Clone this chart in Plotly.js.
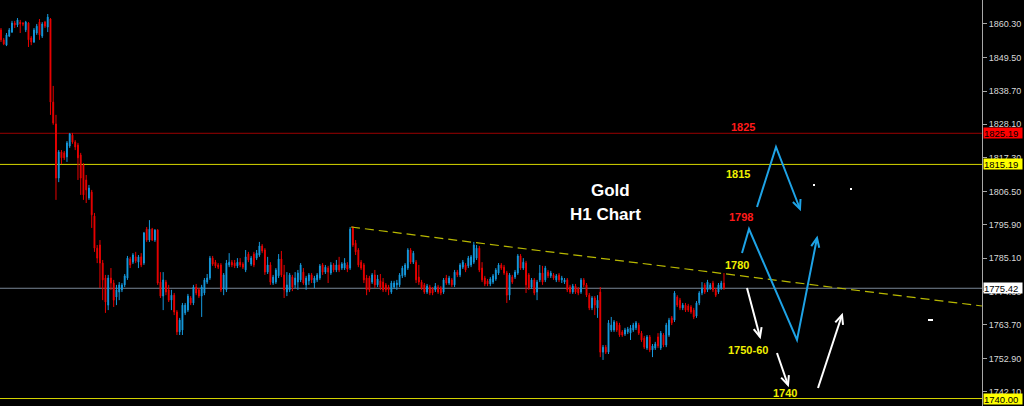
<!DOCTYPE html>
<html>
<head>
<meta charset="utf-8">
<script src="https://cdn.plot.ly/plotly-3.0.1.min.js"></script>
<style>
html,body{margin:0;padding:0;background:#000;}
#chart{width:1024px;height:406px;}
</style>
</head>
<body>
<div id="chart"></div>
<script>
// ---- Gold H1 OHLC ----
const open = [
1858.4,1855.2,1853.5,1856.4,1857.7,1860.6,1860.0,1860.9,1860.6,1858.4,
1860.6,1855.8,1854.5,1857.4,1860.9,1856.4,1860.9,1859.3,1861.9,1835.2,
1828.2,1810.8,1819.2,1818.9,1817.6,1821.1,1824.6,1822.4,1821.4,1818.2,
1815.0,1810.2,1804.4,1806.3,1798.6,1788.3,1789.3,1783.5,1778.7,1770.0,
1778.7,1777.1,1772.6,1774.2,1774.9,1776.5,1778.7,1784.8,1783.8,1785.5,
1783.8,1785.5,1783.5,1794.4,1790.9,1794.4,1790.9,1794.1,1777.4,1772.9,
1777.4,1774.9,1771.6,1773.2,1767.8,1761.4,1762.0,1767.5,1768.4,1772.3,
1770.7,1775.8,1774.9,1772.9,1773.9,1777.4,1778.7,1785.1,1783.8,1782.9,
1782.9,1775.2,1774.9,1782.9,1783.8,1783.5,1782.6,1783.8,1783.2,1781.3,
1786.4,1783.2,1786.4,1785.1,1786.1,1789.0,1787.7,1780.6,1782.9,1777.1,
1777.4,1779.4,1784.8,1779.7,1774.2,1774.9,1779.0,1776.5,1777.4,1778.1,
1780.6,1776.5,1777.8,1779.7,1777.1,1778.1,1778.7,1782.9,1780.6,1781.9,
1780.3,1782.9,1781.3,1782.9,1781.9,1781.9,1782.9,1781.9,1794.8,1789.9,
1787.7,1783.8,1782.9,1778.7,1778.7,1777.4,1779.7,1776.5,1777.8,1777.4,
1776.5,1775.8,1774.2,1775.8,1776.5,1776.5,1779.4,1779.7,1781.9,1787.7,
1783.8,1783.8,1779.0,1777.4,1776.5,1774.2,1775.8,1775.2,1774.9,1775.8,
1775.5,1774.2,1778.7,1777.1,1778.1,1776.5,1780.6,1779.7,1782.2,1782.9,
1782.6,1782.9,1783.8,1785.1,1788.3,1781.9,1778.7,1777.8,1776.8,1777.4,
1778.4,1780.3,1782.9,1782.2,1780.3,1773.2,1779.0,1779.0,1780.3,1785.8,
1781.9,1783.5,1779.7,1775.8,1778.1,1774.2,1778.1,1780.3,1778.1,1780.6,
1779.4,1779.7,1778.1,1779.7,1778.1,1777.4,1778.1,1775.8,1774.2,1776.1,
1775.2,1774.2,1778.1,1776.5,1773.2,1769.1,1772.3,1769.1,1774.2,1754.9,
1756.5,1754.9,1762.0,1762.0,1764.3,1763.6,1761.4,1760.7,1761.4,1761.0,
1762.0,1762.7,1763.6,1761.0,1759.4,1756.2,1759.8,1755.6,1756.2,1759.8,
1756.2,1760.4,1757.2,1760.4,1765.9,1765.2,1772.6,1771.6,1769.1,1770.0,
1769.7,1769.4,1768.4,1766.5,1770.7,1773.9,1776.5,1774.9,1775.5,1777.1,
1774.9,1774.2,1775.5,1777.1];
const high = [
1859.0,1855.8,1857.4,1859.0,1861.3,1861.3,1862.2,1861.6,1860.9,1861.3,
1860.9,1856.4,1859.0,1860.3,1861.9,1860.9,1861.3,1863.5,1862.2,1840.4,
1831.1,1819.8,1819.8,1819.5,1822.7,1825.3,1825.3,1823.0,1822.1,1818.9,
1815.6,1811.8,1808.6,1807.0,1799.6,1789.3,1790.9,1784.5,1779.7,1779.7,
1781.9,1778.1,1776.5,1777.4,1777.1,1780.0,1785.8,1785.5,1786.7,1787.1,
1786.1,1786.7,1793.5,1795.1,1797.3,1794.8,1794.4,1794.4,1780.6,1780.6,
1778.1,1776.5,1774.9,1773.9,1768.4,1765.9,1770.7,1770.7,1773.6,1772.9,
1776.5,1776.8,1775.5,1776.5,1778.7,1780.0,1785.8,1785.8,1784.5,1783.5,
1783.5,1780.3,1784.5,1786.7,1784.5,1784.5,1785.1,1785.1,1783.8,1787.7,
1787.1,1785.8,1787.1,1787.7,1790.3,1789.6,1788.3,1785.5,1783.8,1779.7,
1781.9,1786.4,1787.4,1782.9,1780.6,1780.3,1779.7,1780.6,1781.3,1783.5,
1781.9,1779.4,1780.3,1780.3,1779.4,1780.3,1783.2,1783.5,1782.9,1782.6,
1783.8,1783.5,1784.5,1785.5,1783.8,1785.1,1783.8,1795.1,1795.4,1790.9,
1788.3,1784.5,1783.5,1779.7,1779.4,1780.3,1781.3,1779.7,1780.0,1778.7,
1777.1,1776.5,1777.8,1777.8,1778.1,1780.3,1782.6,1783.5,1788.3,1788.3,
1787.4,1784.5,1782.9,1778.1,1777.1,1776.8,1776.5,1775.8,1777.1,1776.5,
1776.1,1778.7,1779.7,1779.4,1778.7,1781.3,1781.3,1783.5,1784.5,1783.5,
1785.8,1786.1,1790.3,1789.3,1789.0,1783.8,1779.4,1778.4,1779.0,1780.0,
1781.9,1783.5,1783.5,1782.9,1781.0,1780.3,1779.7,1781.3,1786.4,1786.4,
1785.1,1784.2,1780.3,1778.7,1778.7,1778.1,1782.9,1782.6,1782.6,1781.3,
1781.0,1780.3,1780.0,1780.3,1779.4,1778.7,1778.7,1776.5,1776.8,1776.8,
1775.8,1778.7,1778.7,1777.1,1773.9,1772.9,1772.9,1773.2,1775.8,1757.2,
1757.2,1765.2,1766.2,1765.2,1764.9,1764.3,1762.0,1762.7,1763.0,1763.6,
1764.3,1764.9,1764.3,1761.7,1760.1,1760.4,1760.4,1757.5,1758.2,1761.0,
1761.7,1761.0,1764.3,1765.9,1766.5,1774.5,1773.2,1772.3,1770.7,1770.7,
1770.4,1770.0,1769.1,1771.3,1774.5,1777.4,1777.1,1778.1,1777.1,1777.8,
1775.5,1777.1,1777.8,1780.3];
const low = [
1854.5,1853.5,1853.2,1856.1,1857.4,1859.0,1859.3,1857.4,1859.6,1857.7,
1852.9,1853.5,1854.2,1856.8,1855.2,1855.8,1859.0,1857.7,1831.1,1827.9,
1803.8,1809.5,1815.3,1816.6,1816.0,1820.5,1821.8,1819.8,1810.2,1805.4,
1803.8,1802.8,1803.8,1794.8,1787.1,1783.5,1775.5,1771.6,1767.5,1768.4,
1774.9,1769.4,1770.0,1771.6,1774.2,1775.8,1778.1,1781.9,1783.2,1783.5,
1781.9,1782.2,1782.9,1790.3,1790.3,1790.6,1790.3,1776.5,1772.3,1768.4,
1773.2,1771.0,1768.4,1766.8,1760.4,1760.4,1760.4,1766.8,1767.8,1770.0,
1770.0,1773.2,1772.3,1766.2,1773.2,1776.8,1778.1,1782.6,1781.9,1781.6,
1774.2,1773.2,1774.2,1782.2,1782.2,1781.9,1781.9,1782.2,1781.6,1780.6,
1783.8,1782.6,1782.2,1784.5,1785.5,1786.7,1779.7,1780.0,1776.5,1776.5,
1776.8,1778.7,1779.0,1772.3,1772.9,1774.2,1774.5,1775.5,1774.9,1777.4,
1776.5,1774.9,1776.5,1777.1,1775.5,1777.4,1778.1,1779.7,1780.0,1777.1,
1779.7,1780.6,1780.6,1780.6,1781.3,1781.3,1780.6,1781.3,1788.7,1786.1,
1782.2,1781.3,1777.1,1773.2,1774.2,1776.8,1775.5,1775.8,1774.9,1774.2,
1774.2,1773.2,1773.6,1775.2,1774.9,1775.8,1778.7,1779.0,1781.3,1783.2,
1783.2,1777.1,1776.5,1774.9,1773.6,1773.6,1773.2,1773.2,1774.2,1773.6,
1773.2,1773.6,1776.5,1776.5,1775.8,1775.8,1779.0,1779.0,1781.6,1780.6,
1781.9,1782.2,1783.2,1784.5,1780.6,1777.4,1776.1,1776.1,1776.1,1776.8,
1777.8,1779.7,1781.3,1779.7,1770.7,1771.6,1776.8,1778.4,1779.7,1781.3,
1781.3,1773.9,1774.9,1775.2,1773.2,1771.6,1777.4,1776.5,1777.4,1778.7,
1778.7,1778.1,1777.4,1777.4,1777.1,1776.8,1774.2,1773.6,1773.6,1773.6,
1773.2,1773.6,1775.8,1772.6,1768.4,1768.4,1766.8,1765.9,1753.3,1752.4,
1754.3,1754.3,1761.4,1761.4,1761.4,1759.8,1759.8,1760.1,1760.7,1758.8,
1761.4,1762.0,1760.4,1758.2,1755.9,1755.6,1754.9,1753.3,1755.6,1756.2,
1755.6,1756.5,1756.5,1759.8,1763.6,1764.6,1769.4,1768.4,1768.4,1767.8,
1767.8,1767.2,1765.5,1765.9,1770.0,1773.2,1773.6,1774.2,1774.9,1774.2,
1772.6,1773.6,1774.9,1774.9];
const close = [
1855.2,1853.9,1856.8,1858.4,1860.6,1860.0,1861.6,1860.3,1860.3,1860.9,
1855.2,1854.5,1858.4,1859.6,1856.8,1860.3,1859.6,1862.5,1835.2,1828.5,
1810.8,1819.2,1817.3,1817.3,1822.1,1825.0,1822.4,1820.8,1817.3,1810.8,
1805.4,1807.0,1807.6,1799.0,1788.3,1785.1,1783.5,1778.1,1771.0,1778.7,
1777.1,1771.6,1774.9,1776.5,1776.5,1779.4,1785.1,1782.9,1786.1,1784.2,
1785.5,1782.9,1793.2,1790.9,1794.4,1790.9,1794.1,1777.1,1772.9,1778.1,
1774.2,1771.6,1773.2,1767.8,1761.4,1765.2,1770.0,1770.0,1772.9,1770.7,
1775.8,1773.9,1772.9,1775.8,1778.1,1778.7,1785.1,1783.2,1782.6,1782.2,
1774.9,1779.7,1783.5,1783.8,1782.9,1782.6,1783.8,1782.9,1782.2,1785.5,
1784.5,1785.1,1782.9,1786.7,1789.0,1787.4,1780.6,1782.9,1777.4,1779.0,
1781.3,1784.8,1779.7,1774.9,1776.5,1779.7,1775.8,1778.7,1780.3,1782.9,
1777.1,1778.7,1779.7,1778.1,1778.7,1779.7,1782.6,1780.6,1782.2,1780.6,
1782.9,1781.3,1782.9,1781.3,1783.2,1783.5,1781.6,1794.4,1789.3,1787.1,
1782.9,1781.9,1778.1,1774.9,1774.9,1779.7,1776.5,1778.4,1775.8,1774.9,
1774.9,1774.9,1777.1,1777.1,1777.1,1779.7,1781.9,1782.9,1787.7,1783.8,
1786.7,1778.1,1777.4,1775.5,1774.2,1776.1,1773.9,1773.9,1776.1,1774.2,
1773.9,1778.1,1777.1,1778.7,1776.5,1780.6,1779.7,1782.9,1783.8,1781.3,
1785.1,1785.5,1789.3,1788.3,1781.3,1778.1,1776.8,1776.8,1778.4,1779.4,
1781.3,1782.9,1781.9,1780.3,1773.2,1779.7,1777.4,1780.6,1785.8,1781.9,
1783.8,1776.5,1775.5,1778.1,1773.9,1777.4,1780.3,1777.4,1781.9,1779.4,
1780.3,1778.7,1779.4,1778.1,1778.7,1778.1,1774.9,1774.2,1776.1,1774.2,
1773.9,1778.1,1776.5,1773.2,1769.1,1772.3,1770.0,1771.6,1754.9,1756.5,
1754.9,1764.3,1763.6,1764.6,1762.0,1760.4,1760.4,1762.0,1762.3,1762.7,
1763.6,1764.3,1761.0,1758.8,1756.5,1759.8,1755.6,1756.9,1757.5,1756.9,
1761.0,1757.2,1763.6,1765.2,1764.3,1773.9,1770.0,1769.1,1770.0,1768.4,
1768.4,1767.8,1766.2,1770.7,1773.9,1775.5,1774.2,1777.4,1776.5,1774.9,
1773.2,1776.5,1777.1,1775.5];

// price axis ticks and horizontal levels
const tickVals = [1860.30,1849.50,1838.70,1828.10,1817.30,1806.50,1795.90,1785.10,1774.30,1763.70,1752.90,1742.10];
const levels = [1825.19, 1815.19, 1775.42, 1740.00];
const levelColors = ['#9a0000', '#d6d600', '#7a8796', '#d6d600'];
const levelBoxBg = ['#ff0000', '#ffff00', '#ffffff', '#ffff00'];

// chart annotations
const noteTexts = ['1825', '1815', '1798', '1780', '1750-60', '1740'];
const noteColors = ['#ff1a1a', '#f0f000', '#ff1a1a', '#f0f000', '#f0f000', '#f0f000'];
const titleLines = ['Gold', 'H1 Chart'];

const bars = open.map((_, i) => i);

// ---- geometry of the overlay drawing (pixels inside the plot area) ----
const W = 982, H = 406;
const px = x => x / W;
const py = y => 1 - y / H;
function pathOf(pts) {
  return pts.map((p, i) => (i ? 'L' : 'M') + px(p[0]).toFixed(5) + ',' + py(p[1]).toFixed(5)).join(' ');
}
function arrow(pts, color, width) {
  const out = [{type: 'path', xref: 'paper', yref: 'paper', path: pathOf(pts), line: {color: color, width: width}}];
  const a = pts[pts.length - 2], b = pts[pts.length - 1];
  const ang = Math.atan2(b[1] - a[1], b[0] - a[0]);
  const L = 10, s = 0.42;
  const w1 = [b[0] - L * Math.cos(ang - s), b[1] - L * Math.sin(ang - s)];
  const w2 = [b[0] - L * Math.cos(ang + s), b[1] - L * Math.sin(ang + s)];
  out.push({type: 'path', xref: 'paper', yref: 'paper', path: pathOf([w1, b, w2]), line: {color: color, width: width}});
  return out;
}

const shapes = [];
levels.forEach((lv, i) => shapes.push({
  type: 'line', xref: 'paper', yref: 'y', x0: 0, x1: 1, y0: lv, y1: lv,
  line: {color: levelColors[i], width: 1}, layer: 'below'
}));
// trend line
shapes.push({type: 'path', xref: 'paper', yref: 'paper', path: pathOf([[351, 227], [982, 306]]),
  line: {color: '#b8b800', width: 1.2, dash: '9px,5px'}});
const blue = '#1ea3e6', white = '#ffffff';
[].concat(
  arrow([[757, 207], [776, 147], [800, 209]], blue, 2),
  arrow([[742, 253], [749, 229], [797, 340], [817, 238]], blue, 2),
  arrow([[747, 288], [760, 337]], white, 2),
  arrow([[777, 353], [788, 385]], white, 2),
  arrow([[818, 388], [842, 315]], white, 2)
).forEach(s => shapes.push(s));
// small marks
[[813, 184, 815, 186], [850, 188, 852, 190], [928, 319, 933, 321]].forEach(r => shapes.push({
  type: 'rect', xref: 'paper', yref: 'paper', x0: px(r[0]), x1: px(r[2]), y0: py(r[3]), y1: py(r[1]),
  fillcolor: '#ffffff', line: {width: 0}
}));

const notePos = [[743, 127], [738, 174], [741, 217], [737, 265], [748, 349.5], [785, 393]];
const annotations = [];
noteTexts.forEach((t, i) => annotations.push({
  xref: 'paper', yref: 'paper', x: px(notePos[i][0]), y: py(notePos[i][1]),
  xanchor: 'center', yanchor: 'middle', showarrow: false, text: '<b>' + t + '</b>',
  font: {family: 'Liberation Sans, Arial, sans-serif', size: 11, color: noteColors[i]}
}));
const titlePos = [[610, 190], [605, 215]];
titleLines.forEach((t, i) => annotations.push({
  xref: 'paper', yref: 'paper', x: px(titlePos[i][0]), y: py(titlePos[i][1]),
  xanchor: 'center', yanchor: 'middle', showarrow: false, text: '<b>' + t + '</b>',
  font: {family: 'Liberation Sans, Arial, sans-serif', size: 17, color: '#ffffff'}
}));
levels.forEach((lv, i) => annotations.push({
  xref: 'paper', yref: 'y', x: 983 / W, y: lv, xanchor: 'left', yanchor: 'middle',
  showarrow: false, text: lv.toFixed(2), bgcolor: levelBoxBg[i], borderpad: 0,
  width: 38, height: 10, align: 'left',
  font: {family: 'Liberation Sans, Arial, sans-serif', size: 9.5, color: '#000000'}
}));

const trace = {
  type: 'candlestick', x: bars, open: open, high: high, low: low, close: close,
  increasing: {line: {color: '#1598dc', width: 1}, fillcolor: '#1aaaf2'},
  decreasing: {line: {color: '#e80000', width: 1}, fillcolor: '#ff0000'},
  whiskerwidth: 0, hoverinfo: 'skip', showlegend: false
};

const layout = {
  width: 1024, height: 406,
  margin: {l: 0, r: 42, t: 0, b: 0, pad: 0},
  paper_bgcolor: '#000000', plot_bgcolor: '#000000',
  showlegend: false, boxgap: 0.55,
  xaxis: {range: [-0.36, 356.86], visible: false, showgrid: false, zeroline: false,
    rangeslider: {visible: false}, fixedrange: true},
  yaxis: {side: 'right', range: [1737.6, 1868.0], tickvals: tickVals, tickformat: '.2f',
    ticks: 'outside', ticklen: 4, tickcolor: '#a8a8a8', showline: true, linecolor: '#a8a8a8',
    linewidth: 1, showgrid: false, zeroline: false, fixedrange: true,
    tickfont: {family: 'Liberation Sans, Arial, sans-serif', size: 9, color: '#d8d8d8'}},
  shapes: shapes,
  annotations: annotations
};

Plotly.newPlot('chart', [trace], layout, {displayModeBar: false, staticPlot: true});
</script>
</body>
</html>
